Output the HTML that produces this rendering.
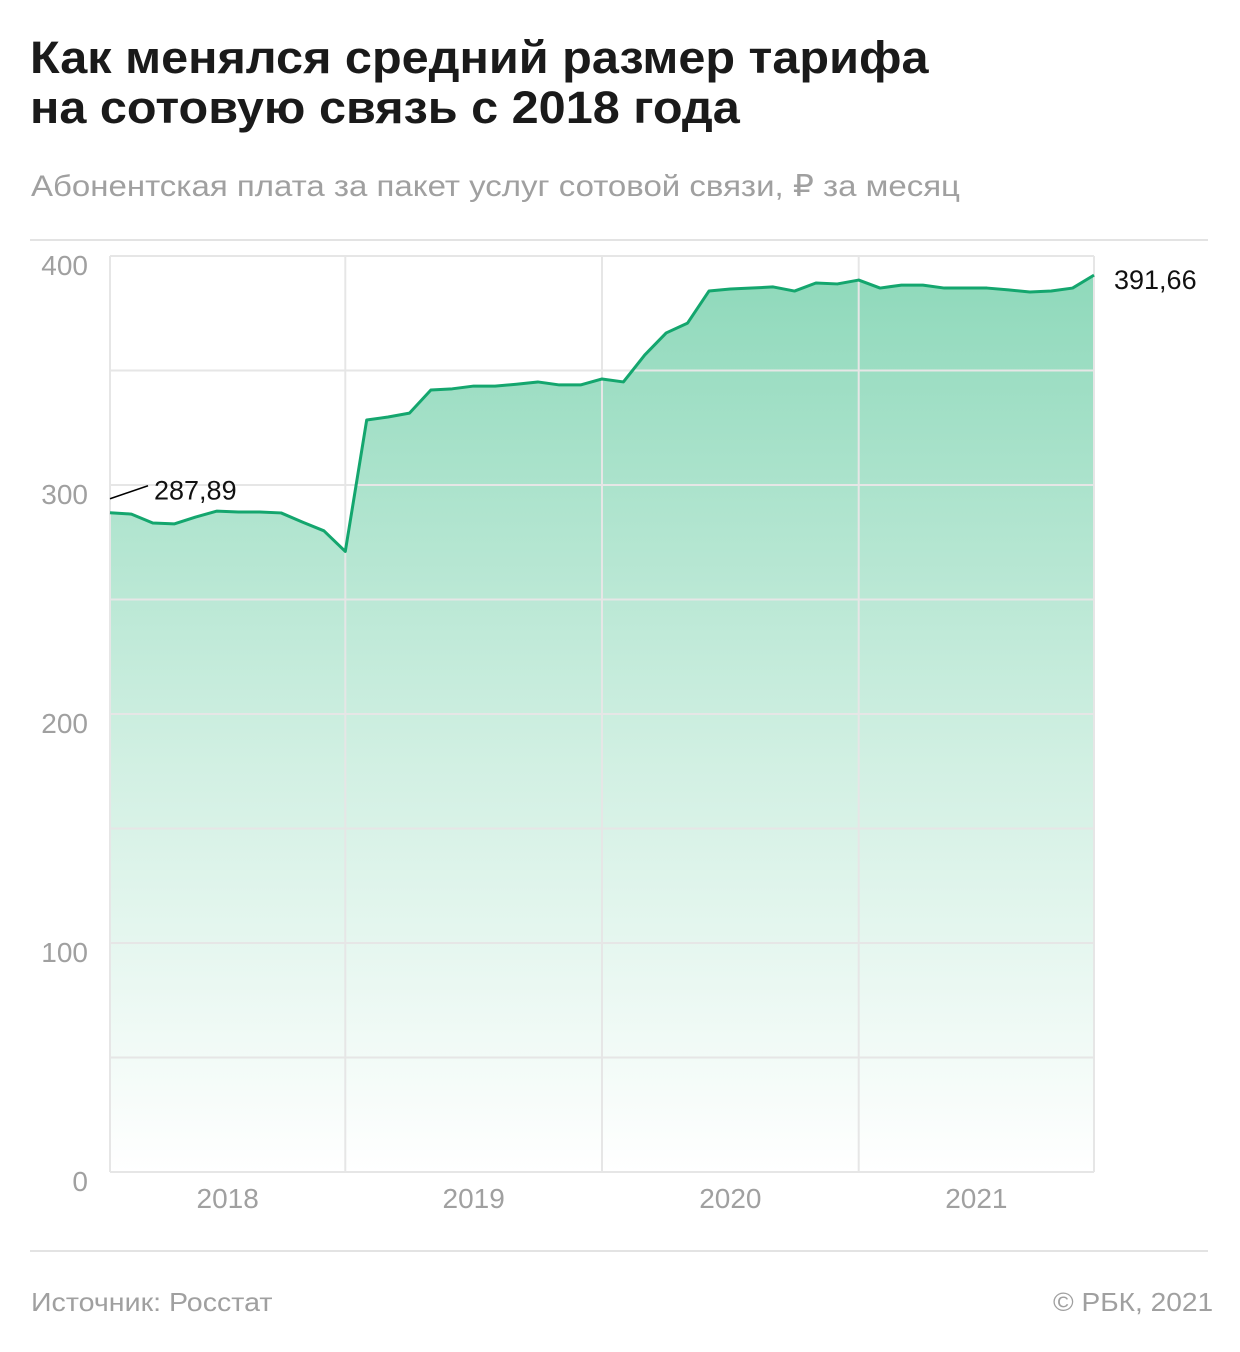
<!DOCTYPE html>
<html><head><meta charset="utf-8"><style>
body{margin:0;background:#fff;font-family:"Liberation Sans","DejaVu Sans",sans-serif;}
#wrap{position:relative;width:1240px;height:1352px;overflow:hidden;}
.t{position:absolute;white-space:nowrap;transform-origin:0 0;}
</style></head><body>
<div id="wrap">
<div class="t" style="left:30px;top:33px;font-size:45px;font-weight:bold;line-height:50px;color:#1a1a1a;transform:scaleX(1.08);">Как менялся средний размер тарифа<br>на сотовую связь с 2018 года</div>
<div class="t" style="left:31px;top:169px;font-size:30px;color:#a0a0a0;transform:scaleX(1.1);">Абонентская плата за пакет услуг сотовой связи, ₽ за месяц</div>
<div class="t" style="left:31px;top:1287px;font-size:26px;color:#a0a0a0;transform:scaleX(1.1);">Источник: Росстат</div>
<div class="t" style="left:1053px;top:1287px;font-size:26px;color:#a0a0a0;transform:scaleX(1.08);">© РБК, 2021</div>
<svg id="chart" width="1240" height="1352" style="position:absolute;left:0;top:0">
<defs><linearGradient id="g" x1="0" y1="0" x2="0" y2="1">
<stop offset="0" stop-color="#8fd9bb"/><stop offset="0.55" stop-color="#d2f0e3"/><stop offset="1" stop-color="#ffffff"/></linearGradient></defs>
</svg>
</div>
<script>
const values=[287.89,287.3,283.4,283,286,288.6,288.2,288.2,287.8,283.8,280,271,328.4,329.7,331.4,341.5,342,343.2,343.2,344,345,343.7,343.7,346.3,345,356.8,366.4,370.7,384.7,385.6,386,386.5,384.7,388.2,387.8,389.5,386,387.3,387.3,386,386,386,385.2,384.3,384.7,386,391.66];
const yTicks=[0,100,200,300,400];
const years=["2018","2019","2020","2021"];
const yearStart=[0,11,23,35];
const yearEnd=[11,23,35,46];
const NS="http://www.w3.org/2000/svg";
const svg=document.getElementById('chart');
const x0=110,x1=1094,yB=1172,yT=256;
const X=i=>x0+(x1-x0)*i/(values.length-1);
const Y=v=>yB-(yB-yT)*v/400;
function mk(t,a){const e=document.createElementNS(NS,t);for(const k in a)e.setAttribute(k,a[k]);svg.appendChild(e);return e;}
let r=mk('line',{x1:30,x2:1208,y1:240,y2:240,stroke:'#e3e3e3','stroke-width':2});

r=mk('line',{x1:30,x2:1208,y1:1251,y2:1251,stroke:'#e3e3e3','stroke-width':2});

let d='M'+X(0)+','+yB;values.forEach((v,i)=>d+=' L'+X(i)+','+Y(v));d+=' L'+X(values.length-1)+','+yB+'Z';
const area=mk('path',{d:d,fill:'url(#g)'});

for(let v=0;v<=400;v+=50){const g=mk('line',{x1:x0,x2:x1,y1:Y(v),y2:Y(v),stroke:'#e6e6e6','stroke-width':2});
}
const vb=[0,11,23,35,46];
vb.forEach(i=>{const g=mk('line',{x1:X(i),x2:X(i),y1:yT,y2:yB,stroke:'#e6e6e6','stroke-width':2});
});
yTicks.forEach(v=>{const t=mk('text',{x:88,y:Y(v)+19,'text-anchor':'end','font-size':28,fill:'#a0a0a0'});t.textContent=v;
});
years.forEach((y,k)=>{const t=mk('text',{x:(X(yearStart[k])+X(yearEnd[k]))/2,y:1208,'text-anchor':'middle','font-size':28,fill:'#a0a0a0'});t.textContent=y;
});
let p='';values.forEach((v,i)=>p+=(i?' L':'M')+X(i)+','+Y(v));
const ln=mk('path',{d:p,fill:'none',stroke:'#14a66e','stroke-width':3,'stroke-linejoin':'round'});

const c=mk('line',{x1:X(0),y1:Y(values[0])-14,x2:148,y2:Y(values[0])-27,stroke:'#000','stroke-width':1.5});

let t=mk('text',{x:154,y:Y(values[0])-13,'font-size':27,fill:'#111'});t.textContent=values[0].toFixed(2).replace('.',',');

const L=values.length-1;
t=mk('text',{x:1114,y:Y(values[L])+14,'font-size':27,fill:'#111'});t.textContent=values[L].toFixed(2).replace('.',',');

</script>
</body></html>
